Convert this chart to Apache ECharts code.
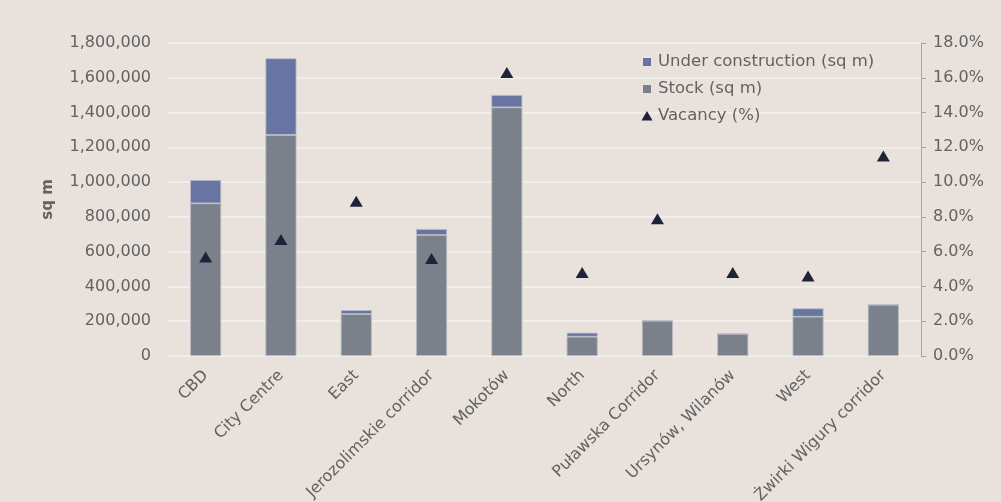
<!DOCTYPE html>
<html><head><meta charset="utf-8">
<script src="https://cdn.jsdelivr.net/npm/echarts@6/dist/echarts.min.js"></script>
<style>html,body{margin:0;padding:0;background:#e8e1dc}#c{width:1001px;height:502px}</style>
</head><body><div id="c"></div>
<script>
const categories = ['CBD','City Centre','East','Jerozolimskie corridor','Mokotów','North','Puławska Corridor','Ursynów, Wilanów','West','Żwirki Wigury corridor'];
const stock = [878000,1271000,241000,696000,1430000,111000,203000,128000,226000,295000];
const underConstruction = [134000,441000,23000,34000,71000,23000,0,0,48000,0];
const vacancy = [5.7,6.7,8.9,5.6,16.3,4.8,7.9,4.8,4.6,11.5];
const leftTicks = {min:0,max:1800000,interval:200000};
const rightTicks = {min:0,max:18,interval:2};

const txt = '#626262';
const font = 'DejaVu Sans';
const sq = 'path://M0,0M12,12M2,2.5h8v8h-8z';
const tri = 'path://M0,0M12,12M0.5,11L6,1.5L11.5,11z';
const chart = echarts.init(document.getElementById('c'));
chart.setOption({
  backgroundColor:'#e8e1dc',
  textStyle:{fontFamily:font},
  grid:{left:168,right:80,top:43,bottom:146,containLabel:false,outerBoundsMode:'none'},
  legend:{
    orient:'vertical', left:636, top:48, itemGap:10, itemWidth:12, itemHeight:12,
    itemStyle:{borderWidth:0},
    textStyle:{color:txt,fontSize:16.5,fontFamily:font,padding:[0,0,0,0]},
    data:[{name:'Under construction (sq m)',icon:sq},{name:'Stock (sq m)',icon:sq},{name:'Vacancy (%)',icon:tri}]
  },
  xAxis:{
    type:'category', data:categories,
    axisLine:{show:false}, axisTick:{show:false},
    axisLabel:{interval:0, rotate:45, color:txt, fontSize:16, fontFamily:font, margin:17}
  },
  yAxis:[{
    type:'value', min:leftTicks.min, max:leftTicks.max, interval:leftTicks.interval,
    name:'sq m', nameLocation:'middle', nameGap:112, nameRotate:90,
    nameTextStyle:{color:txt,fontSize:15,fontWeight:'bold',fontFamily:font},
    axisLine:{show:false}, axisTick:{show:false},
    axisLabel:{color:txt,fontSize:16,fontFamily:font,margin:17,formatter:v=>v.toLocaleString('en-US')},
    splitLine:{lineStyle:{color:'#f5f2ef',width:1.5}}
  },{
    type:'value', min:rightTicks.min, max:rightTicks.max, interval:rightTicks.interval,
    axisLine:{show:true,lineStyle:{color:'#a6a6a6'}},
    axisTick:{show:true,length:5,lineStyle:{color:'#a6a6a6'}},
    axisLabel:{color:txt,fontSize:16,fontFamily:font,margin:12,formatter:v=>v.toFixed(1)+'%'},
    splitLine:{show:false}
  }],
  series:[{
    name:'Stock (sq m)', type:'bar', stack:'a', data:stock, barWidth:31,
    itemStyle:{color:'#7b818b',borderColor:'#b9bcc4',borderWidth:0.8}
  },{
    name:'Under construction (sq m)', type:'bar', stack:'a', data:underConstruction, barWidth:31,
    itemStyle:{color:'#6875a3',borderColor:'#b9bcc4',borderWidth:0.8}
  },{
    name:'Vacancy (%)', type:'scatter', yAxisIndex:1, data:vacancy,
    symbol:'triangle', symbolSize:[13,11], itemStyle:{color:'#1f2238',opacity:1}, z:5
  }]
});
</script></body></html>
